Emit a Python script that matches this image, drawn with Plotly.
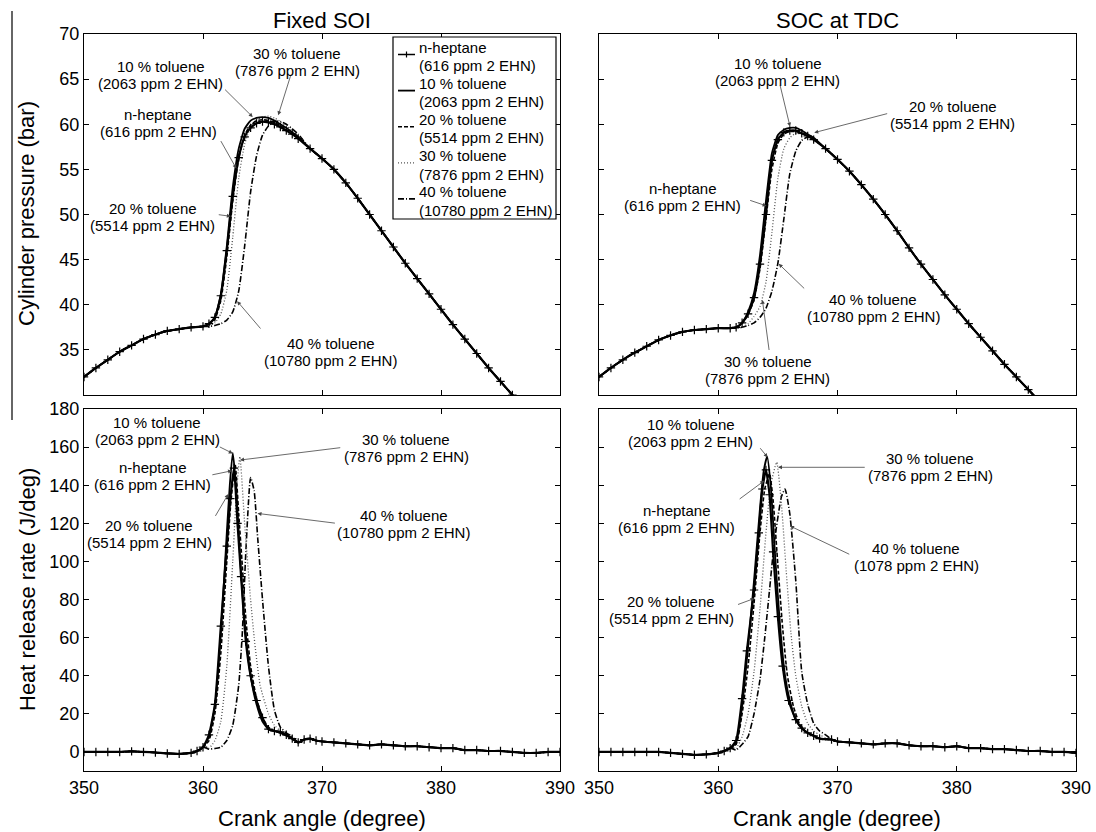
import plotly.graph_objects as go

W, H = 1096, 832
FONT = "Liberation Sans, Arial, Helvetica, sans-serif"

# ------------------------------------------------------------------ data
SERIES = ["n-heptane (616 ppm 2 EHN)", "10 % toluene (2063 ppm 2 EHN)",
          "20 % toluene (5514 ppm 2 EHN)", "30 % toluene (7876 ppm 2 EHN)",
          "40 % toluene (10780 ppm 2 EHN)"]
LEG_LINE1 = ["n-heptane", "10 % toluene", "20 % toluene", "30 % toluene", "40 % toluene"]
LEG_LINE2 = ["(616 ppm 2 EHN)", "(2063 ppm 2 EHN)", "(5514 ppm 2 EHN)",
             "(7876 ppm 2 EHN)", "(10780 ppm 2 EHN)"]
X_TICKS = [350, 360, 370, 380, 390]
P_TICKS = [35, 40, 45, 50, 55, 60, 65, 70]
HRR_TICKS = [0, 20, 40, 60, 80, 100, 120, 140, 160, 180]

# ---- cylinder pressure, fixed SOI
P_FIX_COMP_X = [350, 351, 352, 353, 354, 355, 356, 357, 358, 359, 360]
P_FIX_COMP = [32.0, 33.0, 33.9, 34.8, 35.5, 36.2, 36.7, 37.1, 37.3, 37.5, 37.6]
P_FIX_MID_X = [360.5, 361, 361.5, 362, 362.5, 363, 363.5, 364, 364.5, 365, 365.5,
               366, 366.5, 367, 367.5, 368]
P_FIX_NHEP = [37.9, 38.6, 41.0, 46.0, 52.0, 56.3, 58.6, 59.6, 60.1, 60.3, 60.2, 60.0, 59.7, 59.3, 58.9, 58.4]
P_FIX_T10 = [37.9, 38.6, 41.2, 46.5, 53.0, 57.3, 59.5, 60.4, 60.7, 60.8, 60.7, 60.4, 60.0, 59.6, 59.1, 58.6]
P_FIX_T20 = [37.8, 38.4, 40.5, 45.3, 51.5, 56.2, 58.8, 59.9, 60.4, 60.5, 60.4, 60.2, 59.8, 59.4, 59.0, 58.5]
P_FIX_T30 = [37.7, 38.0, 39.0, 41.6, 47.5, 54.0, 57.8, 59.7, 60.5, 60.8, 60.9, 60.7, 60.3, 59.8, 59.3, 58.7]
P_FIX_T40 = [37.6, 37.7, 37.9, 38.3, 39.2, 41.5, 46.5, 52.5, 56.5, 58.8, 59.8, 60.3, 60.3, 60.0, 59.5, 58.9]
P_FIX_EXP_X = [369, 370, 371, 372, 373, 374, 375, 376, 377, 378, 379, 380, 381, 382,
               383, 384, 385, 386, 387]
P_FIX_EXP = [57.3, 56.2, 55.0, 53.5, 51.8, 50.0, 48.2, 46.4, 44.6, 42.9, 41.2, 39.5,
             37.8, 36.2, 34.6, 33.0, 31.5, 30.0, 28.6]

# ---- cylinder pressure, SOC at TDC
P_TDC_COMP_X = [350, 351, 352, 353, 354, 355, 356, 357, 358, 359, 360, 361]
P_TDC_COMP = [32.0, 33.0, 33.9, 34.7, 35.4, 36.1, 36.6, 37.0, 37.2, 37.3, 37.4, 37.4]
P_TDC_MID_X = [361.5, 362, 362.5, 363, 363.5, 364, 364.5, 365, 365.5, 366, 366.5,
               367, 367.5, 368]
P_TDC_NHEP = [37.5, 38.0, 39.0, 40.8, 44.5, 50.0, 56.0, 58.3, 59.1, 59.3, 59.3, 59.0, 58.7, 58.3]
P_TDC_T10 = [37.5, 38.0, 39.2, 41.3, 45.5, 51.5, 56.8, 58.8, 59.4, 59.6, 59.6, 59.3, 58.9, 58.5]
P_TDC_T20 = [37.5, 37.9, 38.9, 40.6, 44.0, 49.5, 55.0, 57.9, 58.9, 59.2, 59.2, 59.0, 58.7, 58.3]
P_TDC_T30 = [37.4, 37.5, 37.9, 38.7, 39.8, 42.5, 48.0, 54.0, 57.3, 58.5, 59.0, 58.9, 58.7, 58.3]
P_TDC_T40 = [37.4, 37.5, 37.7, 38.0, 38.6, 39.6, 41.5, 44.6, 49.5, 54.5, 57.0, 58.2, 58.6, 58.4]
P_TDC_EXP_X = [369, 370, 371, 372, 373, 374, 375, 376, 377, 378, 379, 380, 381, 382,
               383, 384, 385, 386, 387]
P_TDC_EXP = [57.3, 56.1, 54.8, 53.3, 51.7, 50.0, 48.2, 46.3, 44.5, 42.8, 41.1, 39.5,
             37.9, 36.4, 34.9, 33.4, 32.0, 30.6, 29.2]

# ---- heat release rate, fixed SOI
H_FIX_BASE_X = [350, 351, 352, 353, 354, 355, 356, 357, 358, 359, 359.5, 360]
H_FIX_BASE = [0, 0, 0, 0, 0.3, 0, -0.3, -0.8, -1.0, -0.5, 0.5, 2.5]
H_FIX_NHEP_X = [360.5, 361, 361.5, 362, 362.3, 362.6, 362.9, 363.2, 363.6, 364, 364.5,
                365, 365.5, 366, 366.5, 367, 367.5]
H_FIX_NHEP = [9, 25, 66, 108, 133, 149, 120, 92, 58, 40, 27, 18, 12, 11, 10.5, 9, 7]
H_FIX_T10_X = [360.5, 361, 361.5, 362, 362.25, 362.5, 362.8, 363.1, 363.5, 364, 364.5,
               365, 365.5, 366, 366.5, 367, 367.5]
H_FIX_T10 = [8, 24, 62, 115, 140, 157, 138, 104, 68, 40, 25, 16, 12, 11, 10, 8.5, 7]
H_FIX_T20_X = [360.5, 361, 361.5, 362, 362.3, 362.7, 363, 363.3, 363.6, 364, 364.5,
               365, 365.5, 366, 366.5, 367, 367.5]
H_FIX_T20 = [6, 20, 52, 100, 128, 151, 125, 98, 70, 45, 28, 18, 13, 11, 10, 9, 7]
H_FIX_T30_X = [360.5, 361, 361.5, 362, 362.5, 362.8, 363.1, 363.5, 364, 364.3, 364.8,
               365.5, 366, 366.5, 367, 367.5]
H_FIX_T30 = [2, 6, 16, 45, 100, 135, 155, 120, 80, 60, 35, 20, 14, 11, 9, 7.5]
H_FIX_T40_X = [360.5, 361, 361.5, 362, 362.5, 363, 363.3, 363.6, 364, 364.3, 364.6,
               365, 365.5, 366, 366.5, 367, 367.5]
H_FIX_T40 = [1.5, 1.8, 2.5, 6, 14, 35, 62, 105, 144, 137, 112, 80, 45, 22, 13, 10, 8]
H_FIX_TAIL_X = [368, 368.5, 369, 369.5, 370, 371, 372, 373, 374, 375, 376, 377, 378,
                379, 380, 381, 382, 383, 384, 385, 386, 387, 388, 389, 390]
H_FIX_TAIL = [5, 6.5, 7, 6, 5.5, 5, 4.5, 4, 3.5, 4, 3.5, 3, 3, 2.5, 2, 2, 1, 1, 0.5,
              0.5, 0, -0.5, -0.5, 0, 0]

# ---- heat release rate, SOC at TDC
H_TDC_BASE_X = [350, 351, 352, 353, 354, 355, 356, 357, 358, 359, 360, 360.5, 361]
H_TDC_BASE = [0, 0, 0, 0, 0, 0, -0.5, -1, -1.5, -1.3, -0.5, 0.5, 2]
H_TDC_NHEP_X = [361.5, 362, 362.4, 363, 363.4, 363.7, 364, 364.3, 364.6, 365, 365.4,
                365.9, 366.5, 367, 367.5, 368, 368.5]
H_TDC_NHEP = [6, 28, 53, 85, 115, 138, 148, 135, 105, 71, 45, 27, 17, 12.5, 10, 8.5, 7]
H_TDC_T10_X = [361.5, 362, 362.5, 363, 363.5, 363.8, 364.1, 364.4, 364.8, 365.2, 365.6,
               366, 366.5, 367, 367.5, 368, 368.5]
H_TDC_T10 = [5, 24, 55, 90, 128, 147, 155, 140, 100, 65, 40, 27, 17, 12.5, 10, 8.5, 7]
H_TDC_T20_X = [361.5, 362, 362.5, 363, 363.5, 363.9, 364.3, 364.6, 365, 365.4, 365.8,
               366.3, 366.8, 367.3, 367.8, 368.3, 368.8]
H_TDC_T20 = [4, 20, 45, 78, 115, 138, 146, 132, 98, 65, 40, 24, 15, 11, 9, 7.5, 6.5]
H_TDC_T30_X = [361.5, 362, 362.5, 363, 363.5, 364, 364.4, 364.9, 365.3, 365.7, 366.1,
               366.5, 367, 367.5, 368, 368.5, 369]
H_TDC_T30 = [2, 8, 20, 42, 75, 115, 140, 152, 130, 95, 62, 40, 24, 15, 11, 9, 7.5]
H_TDC_T40_X = [361.5, 362, 362.5, 363, 363.5, 363.9, 364.3, 364.7, 365.3, 365.6, 366,
               366.5, 367, 367.5, 368, 368.5, 369]
H_TDC_T40 = [1, 4, 8, 20, 38, 60, 85, 110, 134, 138, 125, 90, 42, 25, 15, 11, 9]
H_TDC_TAIL_X = [369.5, 370, 371, 372, 373, 374, 375, 376, 377, 378, 379, 380, 381, 382,
                383, 384, 385, 386, 387, 388, 389, 390]
H_TDC_TAIL = [6.5, 5.5, 5, 4.5, 4, 4.5, 4.5, 3.5, 3, 3, 2.5, 3, 2, 2, 1.5, 1.5, 1,
              0.5, 0.5, 0, 0, -0.5]

# ------------------------------------------------------------------ styles
DASHES = ["solid", "solid", "4px,2px", "1px,2px", "6px,2px,1px,2px"]
WIDTHS = [2.2, 1.8, 1.6, 1.3, 1.6]
COLORS = ["#000000", "#000000", "#000000", "#555555", "#000000"]

fig = go.Figure()

panels = [
    ("x", "y", P_FIX_COMP_X, P_FIX_COMP, [P_FIX_MID_X] * 5,
     [P_FIX_NHEP, P_FIX_T10, P_FIX_T20, P_FIX_T30, P_FIX_T40], P_FIX_EXP_X, P_FIX_EXP),
    ("x2", "y2", P_TDC_COMP_X, P_TDC_COMP, [P_TDC_MID_X] * 5,
     [P_TDC_NHEP, P_TDC_T10, P_TDC_T20, P_TDC_T30, P_TDC_T40], P_TDC_EXP_X, P_TDC_EXP),
    ("x3", "y3", H_FIX_BASE_X, H_FIX_BASE,
     [H_FIX_NHEP_X, H_FIX_T10_X, H_FIX_T20_X, H_FIX_T30_X, H_FIX_T40_X],
     [H_FIX_NHEP, H_FIX_T10, H_FIX_T20, H_FIX_T30, H_FIX_T40], H_FIX_TAIL_X, H_FIX_TAIL),
    ("x4", "y4", H_TDC_BASE_X, H_TDC_BASE,
     [H_TDC_NHEP_X, H_TDC_T10_X, H_TDC_T20_X, H_TDC_T30_X, H_TDC_T40_X],
     [H_TDC_NHEP, H_TDC_T10, H_TDC_T20, H_TDC_T30, H_TDC_T40], H_TDC_TAIL_X, H_TDC_TAIL),
]

for xa, ya, bx, by, mxs, mys, tx, ty in panels:
    for i in reversed(range(5)):
        xs = list(bx) + list(mxs[i]) + list(tx)
        ys = list(by) + list(mys[i]) + list(ty)
        if i == 0:
            kw = dict(mode="lines+markers",
                      marker=dict(symbol="cross-thin", size=6,
                                  line=dict(width=1.2, color="black")))
        else:
            kw = dict(mode="lines")
        fig.add_trace(go.Scatter(
            x=xs, y=ys, xaxis=xa, yaxis=ya, name=SERIES[i], showlegend=False,
            line=dict(color=COLORS[i], width=WIDTHS[i], dash=DASHES[i],
                      shape="spline", smoothing=0.5), **kw))

# ------------------------------------------------------------------ axes
def px(x):
    return x / W


def py(y):
    return 1 - y / H


XL = [px(84), px(560)]
XR = [px(599), px(1076)]
YT = [py(395), py(34)]
YB = [py(771), py(409)]

base = dict(showline=True, linecolor="black", linewidth=1, mirror="ticks",
            ticks="inside", ticklen=5, tickcolor="black", tickwidth=1,
            showgrid=False, zeroline=False, automargin=False,
            tickfont=dict(family=FONT, size=18, color="black"))

fig.update_layout(
    template="none",
    xaxis=dict(base, domain=XL, range=[350, 390], tickvals=X_TICKS, showticklabels=False, anchor="y"),
    yaxis=dict(base, domain=YT, range=[30, 70], tickvals=P_TICKS, anchor="x"),
    xaxis2=dict(base, domain=XR, range=[350, 390], tickvals=X_TICKS, showticklabels=False, anchor="y2"),
    yaxis2=dict(base, domain=YT, range=[30, 70], tickvals=P_TICKS, showticklabels=False, anchor="x2"),
    xaxis3=dict(base, domain=XL, range=[350, 390], tickvals=X_TICKS, anchor="y3"),
    yaxis3=dict(base, domain=YB, range=[-10, 180], tickvals=HRR_TICKS, anchor="x3"),
    xaxis4=dict(base, domain=XR, range=[350, 390], tickvals=X_TICKS, anchor="y4"),
    yaxis4=dict(base, domain=YB, range=[-10, 180], tickvals=HRR_TICKS, showticklabels=False, anchor="x4"),
    width=W, height=H, margin=dict(l=0, r=0, t=0, b=0, pad=0),
    paper_bgcolor="white", plot_bgcolor="white",
    font=dict(family=FONT, color="black"),
    showlegend=False,
)

ann = []
shapes = []


def ptext(text, x, y, size, angle=0):
    ann.append(dict(text=text, x=px(x), y=py(y), xref="paper", yref="paper",
                    showarrow=False, textangle=angle, xanchor="center", yanchor="middle",
                    font=dict(family=FONT, size=size, color="black")))


ptext("Fixed SOI", 322, 20, 22)
ptext("SOC at TDC", 837, 20, 22)
ptext("Cylinder pressure (bar)", 27, 214, 22, -90)
ptext("Heat release rate (J/deg)", 27, 590, 22, -90)
ptext("Crank angle (degree)", 322, 818, 22)
ptext("Crank angle (degree)", 837, 818, 22)

# stray frame line at far left
shapes.append(dict(type="line", xref="paper", yref="paper", x0=px(12), x1=px(12),
                   y0=py(11), y1=py(420), line=dict(color="#333", width=1.5)))

# data labels with arrows: (axis, label index, centre, tail, tip)
LABELS = [
    ("x", "y", 1, (356.43, 65.46), (361.73, 64.0), (364.18, 60.8)),
    ("x", "y", 3, (367.94, 66.93), (367.39, 65.5), (366.32, 61.0)),
    ("x", "y", 0, (356.23, 60.11), (361.43, 58.3), (362.8, 55.1)),
    ("x", "y", 2, (355.77, 49.77), (361.2, 50.0), (362.34, 49.8)),
    ("x", "y", 4, (370.75, 34.82), (364.94, 37.2), (362.87, 40.4)),
    ("x2", "y2", 1, (365.01, 65.83), (365.16, 64.46), (366.02, 59.74)),
    ("x2", "y2", 2, (379.66, 61.03), (374.29, 61.22), (368.05, 59.07)),
    ("x2", "y2", 0, (357.03, 51.99), (362.55, 51.62), (364.05, 50.95)),
    ("x2", "y2", 4, (372.99, 39.62), (367.33, 41.65), (365.07, 44.53)),
    ("x2", "y2", 3, (364.14, 32.79), (364.28, 34.82), (363.7, 40.54)),
    ("x3", "y3", 1, (356.14, 168.4), (361.28, 160.5), (362.5, 156.7)),
    ("x3", "y3", 0, (355.77, 144.8), (360.66, 145.3), (362.44, 147.6)),
    ("x3", "y3", 2, (355.47, 114.4), (360.97, 123.1), (362.13, 135.4)),
    ("x3", "y3", 3, (377.07, 159.7), (371.66, 159.8), (363.11, 153.2)),
    ("x3", "y3", 4, (376.86, 119.6), (371.21, 120.0), (364.58, 125.2)),
    ("x4", "y4", 1, (357.7, 167.5), (363.42, 160.2), (364.14, 154.6)),
    ("x4", "y4", 3, (377.77, 149.4), (372.41, 149.4), (365.01, 149.4)),
    ("x4", "y4", 0, (356.54, 122.1), (361.67, 132.2), (363.85, 142.3)),
    ("x4", "y4", 5, (376.62, 102.5), (371.11, 103.4), (366.02, 118.6)),
    ("x4", "y4", 2, (356.07, 74.5), (361.53, 77.1), (363.04, 80.6)),
]
LINE2_EXTRA = "(1078 ppm 2 EHN)"  # label as printed in the SOC-at-TDC heat release panel

for xa, ya, idx, c, tail, tip in LABELS:
    if idx == 5:
        l1, l2 = LEG_LINE1[4], LINE2_EXTRA
    else:
        l1, l2 = LEG_LINE1[idx], LEG_LINE2[idx]
    ann.append(dict(text="", x=tip[0], y=tip[1], ax=tail[0], ay=tail[1],
                    xref=xa, yref=ya, axref=xa, ayref=ya, showarrow=True,
                    arrowhead=2, arrowsize=1, arrowwidth=0.8, arrowcolor="#444"))
    for t, sh in ((l1, 8.5), (l2, -8.5)):
        ann.append(dict(text=t, x=c[0], y=c[1], xref=xa, yref=ya, yshift=sh,
                        showarrow=False, xanchor="center", yanchor="middle",
                        font=dict(family=FONT, size=15, color="black")))

# hand-drawn legend box inside the top-left panel
shapes.append(dict(type="rect", xref="paper", yref="paper", x0=px(393), x1=px(556),
                   y0=py(219), y1=py(37), line=dict(color="black", width=1.2),
                   fillcolor="white", layer="above"))
for i in range(5):
    y1 = 47.5 + 36.1 * i
    ys = y1 + 7
    shapes.append(dict(type="line", xref="paper", yref="paper", x0=px(398), x1=px(415),
                       y0=py(ys), y1=py(ys), layer="above",
                       line=dict(color=COLORS[i], width=WIDTHS[i] if i else 1.5, dash=DASHES[i])))
    if i == 0:
        shapes.append(dict(type="line", xref="paper", yref="paper", x0=px(406.5), x1=px(406.5),
                           y0=py(ys - 3), y1=py(ys + 3), layer="above",
                           line=dict(color="black", width=1.2)))
    for t, yy in ((LEG_LINE1[i], y1), (LEG_LINE2[i], y1 + 18.2)):
        ann.append(dict(text=t, x=px(417), y=py(yy), xref="paper", yref="paper",
                        showarrow=False, xanchor="left", yanchor="middle",
                        font=dict(family=FONT, size=15, color="black")))

fig.update_layout(annotations=ann, shapes=shapes)
fig.write_html("out.html")
